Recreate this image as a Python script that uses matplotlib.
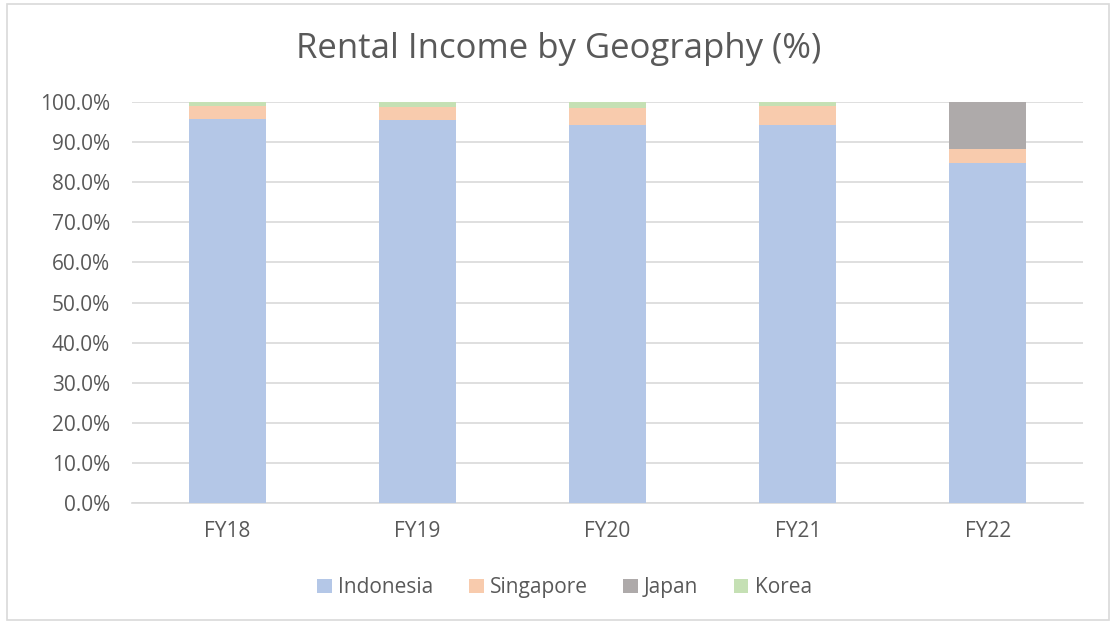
import numpy as np
import matplotlib.pyplot as plt
from matplotlib.patches import Rectangle
from matplotlib.ticker import PercentFormatter

years = ['FY18', 'FY19', 'FY20', 'FY21', 'FY22']
indonesia = [95.7, 95.4, 94.3, 94.3, 84.7]
singapore = [3.3, 3.4, 4.2, 4.8, 3.5]
japan = [0.0, 0.0, 0.0, 0.0, 11.8]
korea = [1.0, 1.2, 1.5, 0.9, 0.0]

series = [('Indonesia', indonesia, '#b4c7e7'),
          ('Singapore', singapore, '#f8cbad'),
          ('Japan', japan, '#aeaaaa'),
          ('Korea', korea, '#c5e0b4')]

txt = '#595959'
plt.rcParams['font.family'] = ['Open Sans', 'DejaVu Sans']

fig = plt.figure(figsize=(11.18, 6.24), dpi=100)
ax = fig.add_axes([0.1181, 0.1939, 0.8506, 0.6426])

x = np.arange(len(years))
bottom = np.zeros(len(years))
for name, vals, col in series:
    vals = np.array(vals)
    ax.bar(x, vals, width=0.405, bottom=bottom, color=col, label=name, zorder=3)
    bottom += vals

ax.set_xlim(-0.5, len(years) - 0.5)
ax.set_ylim(0, 100)
ax.set_yticks(np.arange(0, 101, 10))
ax.yaxis.set_major_formatter(PercentFormatter(decimals=1))
ax.set_xticks(x)
ax.set_xticklabels(years)
ax.grid(axis='y', color='#d9d9d9', linewidth=1.2, zorder=0)
for s in ['top', 'right', 'left']:
    ax.spines[s].set_visible(False)
ax.spines['bottom'].set_color('#d9d9d9')
ax.spines['bottom'].set_linewidth(1.2)
ax.tick_params(axis='both', length=0, labelsize=15, colors=txt)
ax.tick_params(axis='y', pad=16)
ax.tick_params(axis='x', pad=13)

fig.text(0.5, 0.921, 'Rental Income by Geography (%)', ha='center', va='center',
         fontsize=25, color=txt)

fig.legend(loc='center', bbox_to_anchor=(0.505, 0.058), ncol=4, frameon=False,
           fontsize=15, labelcolor=txt, handlelength=0.7, handleheight=0.7,
           handletextpad=0.3, columnspacing=1.7)

fig.patches.append(Rectangle((0.006, 0.006), 0.986, 0.987, transform=fig.transFigure,
                             fill=False, edgecolor='#d9d9d9', linewidth=1.2))

fig.savefig('out.png', dpi=100)
